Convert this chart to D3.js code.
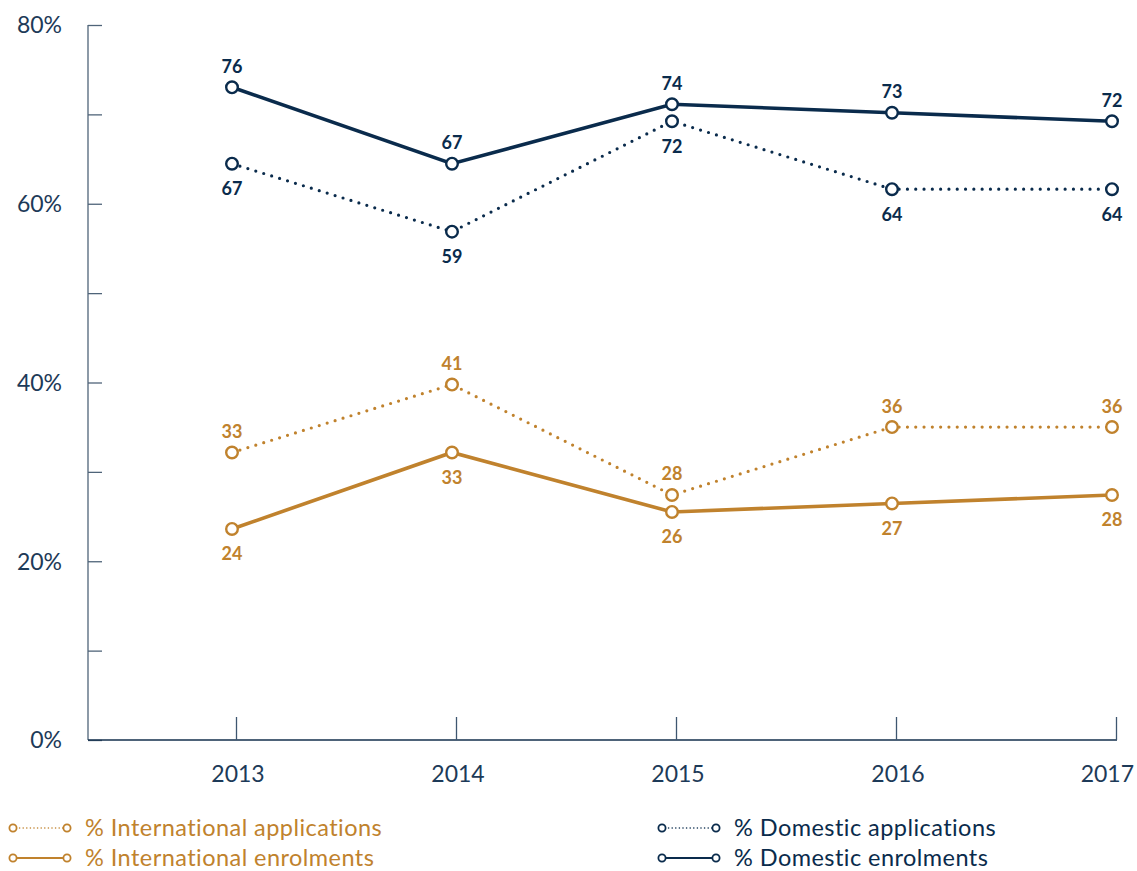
<!DOCTYPE html>
<html><head><meta charset="utf-8">
<script src="https://cdn.jsdelivr.net/npm/d3@7"></script>
<style>
html,body{margin:0;padding:0;background:#fff;}
text{font-family:Lato,"Noto Sans",sans-serif;}
</style></head>
<body>
<svg id="chart" width="1137" height="871"></svg>
<script>
const years = ["2013","2014","2015","2016","2017"];
const domesticEnrolments = [76, 67, 74, 73, 72];
const domesticApplications = [67, 59, 72, 64, 64];
const internationalApplications = [33, 41, 28, 36, 36];
const internationalEnrolments = [24, 33, 26, 27, 28];
const yTickValues = [0,10,20,30,40,50,60,70,80];
const yTickLabels = {0:"0%",20:"20%",40:"40%",60:"60%",80:"80%"};

const NAVY = "#0a2b4c", GOLD = "#c0822d", AXIS_GREY = "#4f6479";

const series = [
  {name:"% International applications", values: internationalApplications, color: GOLD, dotted:true, label:"above"},
  {name:"% International enrolments", values: internationalEnrolments, color: GOLD, dotted:false, label:"below"},
  {name:"% Domestic applications", values: domesticApplications, color: NAVY, dotted:true, label:"below"},
  {name:"% Domestic enrolments", values: domesticEnrolments, color: NAVY, dotted:false, label:"above"}
];

const svg = d3.select("#chart");

// axis scales
const x = d3.scalePoint().domain(years).range([236, 1116]);
const y = d3.scaleLinear().domain([0, 80]).range([740, 25]);
// the plotted marks sit on a slightly different frame in the original
const xData = d3.scalePoint().domain(years).range([232, 1112]);
const yData = d3.scaleLinear().domain([0, 80]).range([732.8, 53.3]);

// Y axis
const yAxis = svg.append("g").attr("transform","translate(88,0)")
  .call(d3.axisRight(y).tickValues(yTickValues).tickSize(14).tickFormat(""));
yAxis.select(".domain").attr("stroke", AXIS_GREY).attr("stroke-width",1.3).attr("d","M0,25V740");
yAxis.selectAll(".tick line").attr("stroke", AXIS_GREY).attr("stroke-width",1.3);

svg.append("g").selectAll("text").data(yTickValues.filter(v => yTickLabels[v]))
  .join("text")
  .attr("x", 62).attr("y", d => y(d)).attr("dy","0.36em")
  .attr("text-anchor","end").attr("font-size",23).attr("fill","#1d3a58")
  .text(d => yTickLabels[d]);

// X axis
const xAxis = svg.append("g").attr("transform","translate(0,740)")
  .call(d3.axisTop(x).tickSize(23).tickFormat(""));
xAxis.select(".domain").attr("stroke", "#132f4d").attr("stroke-width",1.5).attr("d","M88,0H1117");
xAxis.selectAll(".tick line").attr("stroke", "#3e5670").attr("stroke-width",1.3);

svg.append("g").selectAll("text").data(years).join("text")
  .attr("y", 774).attr("dy","0.36em")
  .attr("text-anchor","middle").attr("font-size",23).attr("fill","#1d3a58")
  .text(d => d)
  .attr("x", function(d) {
    const half = this.getComputedTextLength() / 2;
    return Math.min(x(d) + 2, 1134 - half);
  });

// Lines
const line = d3.line().x((d,i) => xData(years[i])).y(d => yData(d));

const g = svg.append("g");
series.forEach(s => {
  g.append("path").datum(s.values)
    .attr("d", line).attr("fill","none")
    .attr("stroke", s.color)
    .attr("stroke-width", s.dotted ? 3.2 : 3.6)
    .attr("stroke-linecap", s.dotted ? "round" : "butt")
    .attr("stroke-dasharray", s.dotted ? "0 8.3" : null);
});
series.forEach(s => {
  g.append("g").selectAll("circle").data(s.values).join("circle")
    .attr("cx",(d,i) => xData(years[i])).attr("cy", d => yData(d))
    .attr("r", 5.8).attr("fill","#fff").attr("stroke", s.color).attr("stroke-width",2.4);
  g.append("g").selectAll("text").data(s.values).join("text")
    .attr("x",(d,i) => xData(years[i]))
    .attr("y", d => yData(d) + (s.label === "above" ? -21 : 25))
    .attr("dy","0.36em").attr("text-anchor","middle")
    .attr("font-size",18).attr("font-weight","bold").attr("fill", s.color)
    .text(d => d);
});

// Legend
const legendItems = [
  {s: series[0], x0: 13, y0: 828},
  {s: series[1], x0: 13, y0: 858},
  {s: series[2], x0: 662, y0: 828},
  {s: series[3], x0: 662, y0: 858}
];
const lg = svg.append("g");
legendItems.forEach(it => {
  const s = it.s;
  lg.append("line").attr("x1", it.x0 + 3).attr("x2", it.x0 + 51).attr("y1", it.y0).attr("y2", it.y0)
    .attr("stroke", s.color).attr("stroke-width", s.dotted ? 1.6 : 2)
    .attr("stroke-linecap", s.dotted ? "round" : "butt")
    .attr("stroke-dasharray", s.dotted ? "0 3.6" : null);
  [it.x0, it.x0 + 54].forEach(cx => {
    lg.append("circle").attr("cx", cx).attr("cy", it.y0).attr("r", 3.6)
      .attr("fill","#fff").attr("stroke", s.color).attr("stroke-width",1.8);
  });
  lg.append("text").attr("x", it.x0 + 72).attr("y", it.y0).attr("dy","0.36em")
    .attr("font-size",23.5).attr("letter-spacing","0.45px").attr("fill", s.color).text(s.name);
});
</script>
</body></html>
